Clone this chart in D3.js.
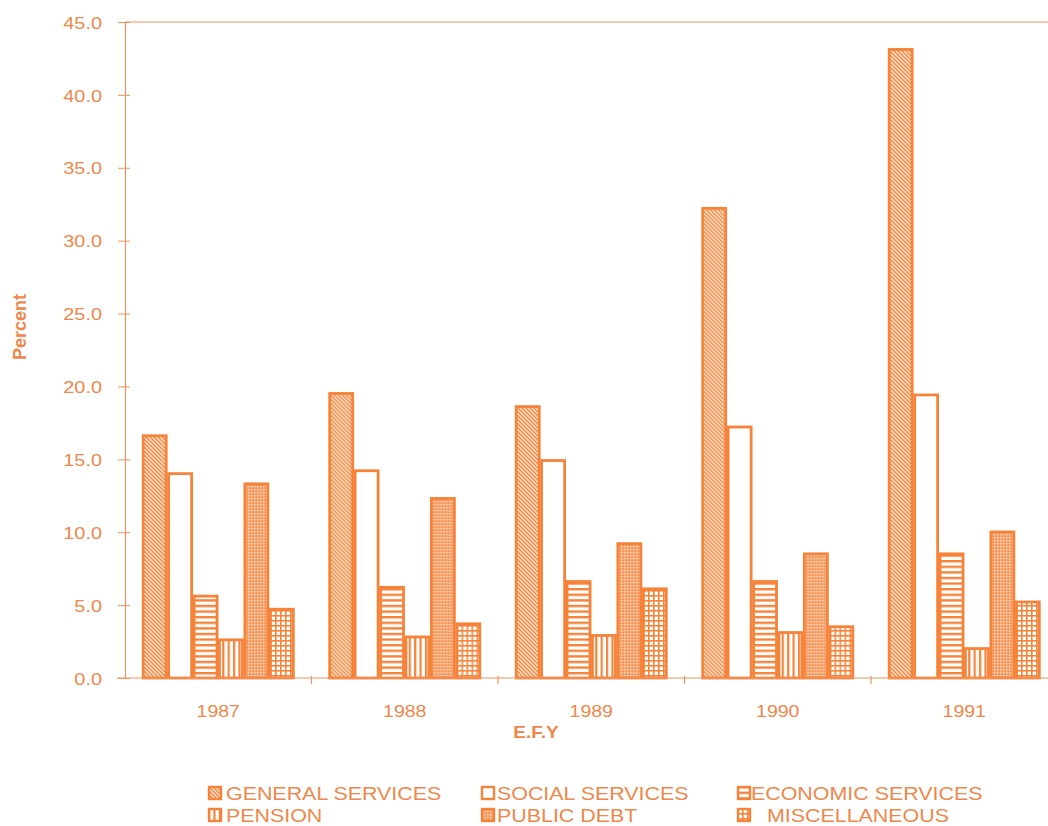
<!DOCTYPE html>
<html>
<head>
<meta charset="utf-8">
<script src="https://cdn.jsdelivr.net/npm/d3@7"></script>
<style>
html,body{margin:0;padding:0;background:#fff;}
svg{display:block;}
text{font-family:"Liberation Sans",Arial,sans-serif;}
</style>
</head>
<body>
<script>
const categories = ["1987", "1988", "1989", "1990", "1991"];
const seriesNames = ["GENERAL SERVICES", "SOCIAL SERVICES", "ECONOMIC SERVICES", "PENSION", "PUBLIC DEBT", "MISCELLANEOUS"];
const generalServices = [16.7, 19.6, 18.7, 32.3, 43.2];
const socialServices = [14.1, 14.3, 15.0, 17.3, 19.5];
const economicServices = [5.7, 6.3, 6.7, 6.7, 8.6];
const pension = [2.7, 2.9, 3.0, 3.2, 2.1];
const publicDebt = [13.4, 12.4, 9.3, 8.6, 10.1];
const miscellaneous = [4.8, 3.8, 6.2, 3.6, 5.3];
const yTicks = [0, 5, 10, 15, 20, 25, 30, 35, 40, 45];
const xTitle = "E.F.Y";
const yTitle = "Percent";

const seriesValues = [generalServices, socialServices, economicServices, pension, publicDebt, miscellaneous];
const patternIds = ["p-diag", "p-none", "p-horiz", "p-vert", "p-dense", "p-grid"];

const W = 1048, H = 826;
const ORANGE = "#f6833a";
const TEXT = "#f0874a";
const AXIS = "#ef935e";

const svg = d3.select("body").append("svg").attr("width", W).attr("height", H);
const defs = svg.append("defs");

// patterns
const pd = defs.append("pattern").attr("id", "p-diag").attr("patternUnits", "userSpaceOnUse").attr("width", 4).attr("height", 4);
pd.append("rect").attr("width", 4).attr("height", 4).attr("fill", "#fde4d0");
pd.append("path").attr("d", "M-1,-1 L5,5 M-1,3 L1,5 M3,-1 L5,1").attr("stroke", ORANGE).attr("stroke-width", 1.3);

const pn = defs.append("pattern").attr("id", "p-none").attr("patternUnits", "userSpaceOnUse").attr("width", 4).attr("height", 4);
pn.append("rect").attr("width", 4).attr("height", 4).attr("fill", "#fff");

const ph = defs.append("pattern").attr("id", "p-horiz").attr("patternUnits", "userSpaceOnUse").attr("width", 6).attr("height", 5.6);
ph.append("rect").attr("width", 6).attr("height", 5.6).attr("fill", "#fff");
ph.append("rect").attr("y", 0).attr("width", 6).attr("height", 2.4).attr("fill", ORANGE);

const pv = defs.append("pattern").attr("id", "p-vert").attr("patternUnits", "userSpaceOnUse").attr("width", 5.4).attr("height", 6);
pv.append("rect").attr("width", 5.4).attr("height", 6).attr("fill", "#fff");
pv.append("rect").attr("x", 0).attr("width", 2.2).attr("height", 6).attr("fill", ORANGE);

const pdn = defs.append("pattern").attr("id", "p-dense").attr("patternUnits", "userSpaceOnUse").attr("width", 3).attr("height", 3);
pdn.append("rect").attr("width", 3).attr("height", 3).attr("fill", "#f7a571");
pdn.append("rect").attr("width", 1.4).attr("height", 1.4).attr("fill", "#fcd6ba");
pdn.append("rect").attr("x", 1.5).attr("y", 1.5).attr("width", 1.4).attr("height", 1.4).attr("fill", "#f48f4c");

const pg = defs.append("pattern").attr("id", "p-grid").attr("patternUnits", "userSpaceOnUse").attr("width", 5).attr("height", 5);
pg.append("rect").attr("width", 5).attr("height", 5).attr("fill", "#fff");
pg.append("rect").attr("width", 5).attr("height", 1.6).attr("fill", ORANGE);
pg.append("rect").attr("width", 1.6).attr("height", 5).attr("fill", ORANGE);

// scales
const x0 = d3.scaleBand().domain(categories).range([125, 1057.5]).padding(0);
const x1 = d3.scaleBand().domain(seriesNames).range([17, 169.5]).padding(0);
const y = d3.scaleLinear().domain([0, 45]).range([678, 22]);

// top border
svg.append("line").attr("x1", 125).attr("x2", W).attr("y1", 22).attr("y2", 22)
  .attr("stroke", AXIS).attr("stroke-width", 1.2);

// bars
const groups = svg.append("g").selectAll("g").data(categories).join("g")
  .attr("transform", d => `translate(${x0(d)},0)`);
groups.selectAll("rect").data((c, ci) => seriesNames.map((s, si) => ({s, si, v: seriesValues[si][ci]})))
  .join("rect")
  .attr("x", d => x1(d.s) + 1.2)
  .attr("width", x1.bandwidth() - 2.4)
  .attr("y", d => y(d.v) + 1.2)
  .attr("height", d => y(0) - y(d.v) - 1.2)
  .attr("fill", d => `url(#${patternIds[d.si]})`)
  .attr("stroke", ORANGE)
  .attr("stroke-width", 2.8);

// y axis
const yAxis = d3.axisLeft(y).tickValues(yTicks).tickFormat(d3.format(".1f")).tickSizeInner(7).tickSizeOuter(0).tickPadding(0);
const ya = svg.append("g").attr("transform", "translate(125,0)").call(yAxis);
ya.select(".domain").attr("stroke", AXIS).attr("stroke-width", 1.2);
ya.selectAll(".tick line").attr("stroke", AXIS).attr("x2", 5).attr("x1", -7);
ya.selectAll(".tick text").remove();
ya.selectAll(".tick").append("text")
  .attr("transform", "translate(-23,0) scale(1.17,1)")
  .attr("dy", "0.36em")
  .attr("text-anchor", "end")
  .attr("fill", TEXT)
  .attr("font-size", 17)
  .text(d => d3.format(".1f")(d));

// x axis
const xAxis = d3.axisBottom(x0).tickSize(0).tickSizeOuter(0);
const xa = svg.append("g").attr("transform", "translate(0,678)").call(xAxis);
xa.select(".domain").attr("stroke", AXIS).attr("stroke-width", 1.2).attr("d", `M117,0H${W}`);
xa.selectAll(".tick text").remove();
xa.selectAll(".tick").append("text")
  .attr("transform", "translate(0,39) scale(1.15,1)")
  .attr("text-anchor", "middle")
  .attr("fill", TEXT)
  .attr("font-size", 17)
  .text(d => d);
// boundary ticks
xa.append("g").selectAll("line").data(categories.slice(1)).join("line")
  .attr("x1", d => x0(d)).attr("x2", d => x0(d))
  .attr("y1", -2).attr("y2", 6)
  .attr("stroke", AXIS).attr("stroke-width", 1.2);

// axis titles
svg.append("text")
  .attr("transform", "translate(536,738) scale(1.12,1)")
  .attr("text-anchor", "middle")
  .attr("font-weight", "bold")
  .attr("font-size", 17)
  .attr("fill", TEXT)
  .text(xTitle);
svg.append("text")
  .attr("transform", "translate(26,327) rotate(-90)")
  .attr("text-anchor", "middle")
  .attr("font-weight", "bold")
  .attr("font-size", 18)
  .attr("fill", TEXT)
  .text(yTitle);

// legend
const legX = [208, 481, 737];
const legY = [786, 808];
const textOffset = [18, 16, 14, 18, 16, 30];
const leg = svg.append("g").selectAll("g").data(seriesNames).join("g")
  .attr("transform", (d, i) => `translate(${legX[i % 3]},${legY[Math.floor(i / 3)]})`);
leg.append("rect")
  .attr("x", 1).attr("y", 1).attr("width", 12).attr("height", 12)
  .attr("fill", (d, i) => `url(#${patternIds[i]})`)
  .attr("stroke", ORANGE).attr("stroke-width", 2.4);
leg.append("text")
  .attr("transform", (d, i) => `translate(${textOffset[i]},14) scale(1.19,1)`)
  .attr("font-size", 18)
  .attr("fill", TEXT)
  .text(d => d);
</script>
</body>
</html>
